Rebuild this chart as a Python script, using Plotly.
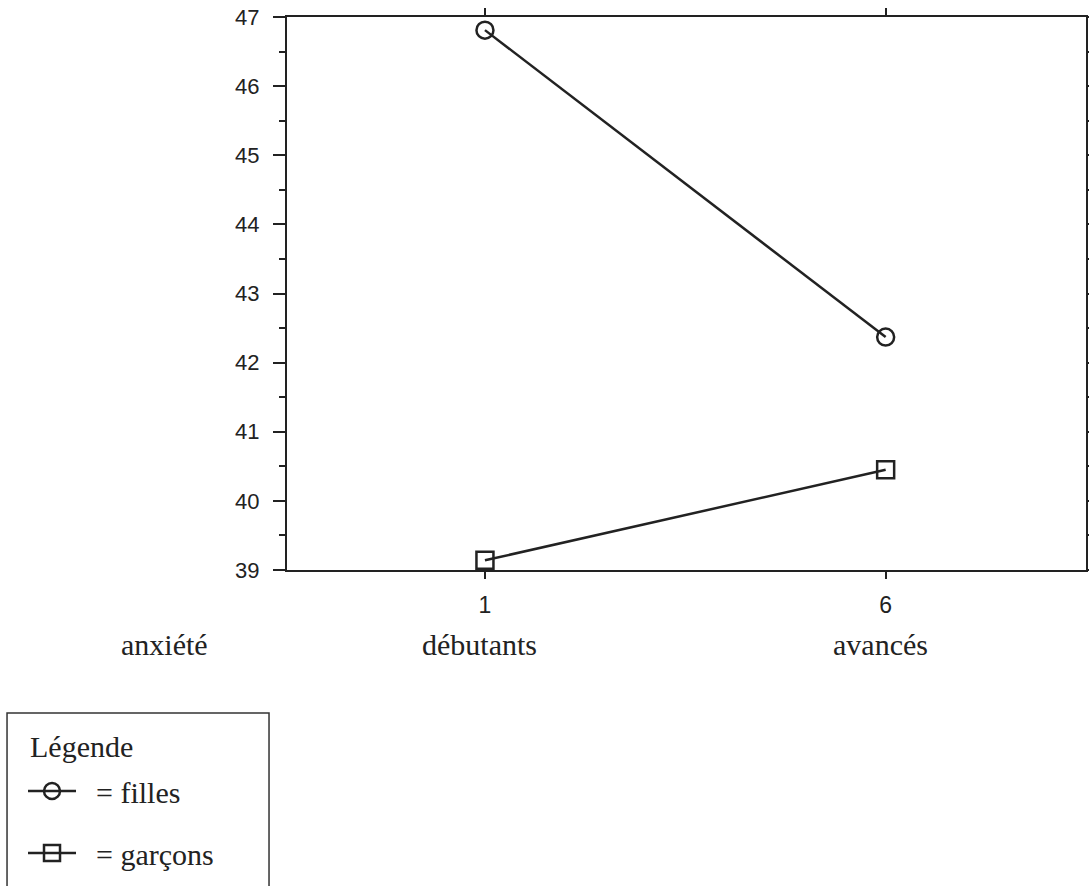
import plotly.graph_objects as go

niveaux = [1, 6]
filles = [46.81, 42.37]
garcons = [39.14, 40.45]
y_ticks = [39, 40, 41, 42, 43, 44, 45, 46, 47]
x_labels = ["débutants", "avancés"]

NB = "\u00a0\u00a0"

fig = go.Figure()
fig.add_trace(go.Scatter(
    x=niveaux, y=filles, name=NB + "= filles", mode="lines+markers", legendgroup="f",
    line=dict(color="#222", width=2.5),
    marker=dict(symbol="circle-open", size=17, color="#222", line=dict(width=2.5)),
))
fig.add_trace(go.Scatter(
    x=niveaux, y=garcons, name=NB + "= garçons", mode="lines+markers", legendgroup="g",
    line=dict(color="#222", width=2.5),
    marker=dict(symbol="square-open", size=17, color="#222", line=dict(width=2.5)),
))

serif = "Liberation Serif, Times New Roman, serif"
sans = "Liberation Sans, Arial, sans-serif"

for xv, lab in zip(niveaux, x_labels):
    fig.add_annotation(x=xv, y=-0.1356, xref="x", yref="paper", text=lab, xshift=-5,
                       xanchor="center", yanchor="middle",
                       showarrow=False, font=dict(family=serif, size=30, color="#222"))
fig.add_annotation(x=-0.1527, y=-0.1356, xref="paper", yref="paper", text="anxiété",
                   xanchor="center", yanchor="middle",
                   showarrow=False, font=dict(family=serif, size=30, color="#222"))

# legend title and frame
fig.add_annotation(x=-0.3241, y=-0.3195, xref="paper", yref="paper", text="Légende",
                   xanchor="left", yanchor="middle",
                   showarrow=False, font=dict(family=serif, size=30, color="#222"))
fig.add_shape(type="rect", xref="paper", yref="paper",
              x0=-0.3504, x1=-0.0225, y0=-0.2586, y1=-0.62,
              line=dict(color="#333", width=1.5), fillcolor="rgba(0,0,0,0)")

fig.update_layout(
    width=1089, height=886,
    margin=dict(l=287, r=3, t=17, b=316, autoexpand=False),
    paper_bgcolor="white", plot_bgcolor="white",
    showlegend=True,
    legend=dict(
        x=-0.3304, y=-0.3526, xanchor="left", yanchor="top",
        borderwidth=0, bgcolor="rgba(0,0,0,0)",
        font=dict(family=serif, size=30, color="#222"),
        itemwidth=48, tracegroupgap=20, traceorder="grouped",
    ),
    xaxis=dict(
        range=[-1.47, 8.5], tickvals=niveaux, ticktext=[str(v) for v in niveaux],
        showline=True, linecolor="#222", linewidth=2, mirror="ticks",
        ticks="outside", ticklen=7, tickwidth=2, tickcolor="#222",
        tickfont=dict(family=sans, size=23, color="#222"),
        showgrid=False, zeroline=False, ticklabelstandoff=6,
    ),
    yaxis=dict(
        range=[39, 47], tickvals=y_ticks,
        showline=True, linecolor="#222", linewidth=2, mirror="allticks",
        ticks="outside", ticklen=12, tickwidth=2, tickcolor="#222",
        minor=dict(dtick=0.5, tick0=39, ticks="outside", ticklen=6, tickwidth=2, tickcolor="#222"),
        tickfont=dict(family=sans, size=22, color="#222"),
        showgrid=False, zeroline=False, ticklabelstandoff=9,
        ticklabeloverflow="allow",
    ),
)

fig.write_html("out.html", config={"displayModeBar": False},
               post_script="document.body.style.margin='0';")
